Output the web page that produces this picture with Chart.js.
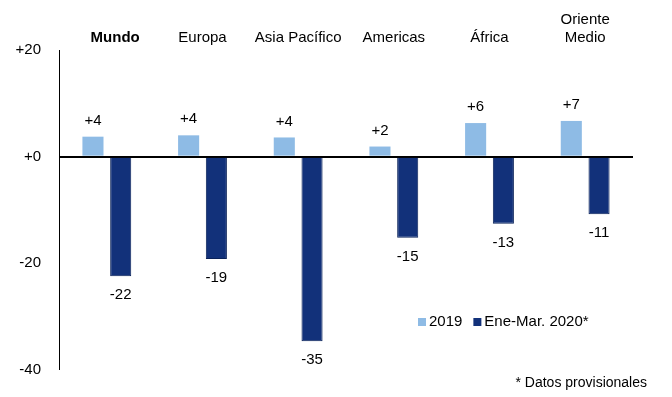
<!DOCTYPE html>
<html><head><meta charset="utf-8">
<script src="https://cdn.jsdelivr.net/npm/chart.js@4"></script>
<style>html,body{margin:0;padding:0;background:#fff}</style>
</head><body>
<canvas id="c" width="672" height="397" style="display:block;width:672px;height:397px"></canvas>
<script>
const categories = ['Mundo', 'Europa', 'Asia Pacífico', 'Americas', 'África', ['Oriente', 'Medio']];
const values2019 = [3.75, 4.0, 3.6, 1.9, 6.3, 6.7];
const values2020 = [-22.4, -19.2, -34.6, -15.2, -12.6, -10.8];
const seriesNames = ['2019', 'Ene-Mar. 2020*'];
const yMin = -40, yMax = 20, yStep = 20;
const footnote = '* Datos provisionales';

const FONT = "'Liberation Sans', Arial, sans-serif";
const LIGHT = '#8EBBE5';
const DARK = '#12317A';

function fmt(v) { const r = Math.round(v); return (r >= 0 ? '+' : '') + r; }

const labelsPlugin = {
  id: 'valueLabels',
  afterDatasetsDraw(chart) {
    const ctx = chart.ctx;
    ctx.save();
    ctx.font = '15px ' + FONT;
    ctx.fillStyle = '#000';
    ctx.textAlign = 'center';
    ctx.textBaseline = 'middle';
    chart.data.datasets.forEach((ds, di) => {
      const meta = chart.getDatasetMeta(di);
      meta.data.forEach((el, i) => {
        const v = ds.data[i];
        const y = v >= 0 ? el.y - 16 : el.y + 19;
        ctx.fillText(fmt(v), el.x, y);
      });
    });
    ctx.restore();
  },
  afterDraw(chart) {
    const ctx = chart.ctx;
    ctx.save();
    ctx.font = '15px ' + FONT;
    ctx.fillStyle = '#000';
    ctx.textBaseline = 'middle';
    ctx.textAlign = 'left';
    // legend
    let x = 418, y = 322;
    chart.data.datasets.forEach((ds) => {
      ctx.fillStyle = ds.backgroundColor;
      ctx.fillRect(x, y - 4, 8, 8);
      ctx.fillStyle = '#000';
      ctx.fillText(ds.label, x + 11, y);
      x += 11 + ctx.measureText(ds.label).width + 11;
    });
    // footnote
    ctx.font = '14px ' + FONT;
    ctx.textAlign = 'right';
    ctx.fillText(footnote, 647, 383);
    ctx.restore();
  }
};

new Chart(document.getElementById('c'), {
  type: 'bar',
  data: {
    labels: categories,
    datasets: [
      { label: seriesNames[0], data: values2019, backgroundColor: LIGHT, borderWidth: 0 },
      { label: seriesNames[1], data: values2020, backgroundColor: DARK, borderColor: '#0A2259', borderWidth: 1 }
    ]
  },
  options: {
    responsive: false,
    animation: false,
    devicePixelRatio: 1,
    categoryPercentage: 0.58,
    barPercentage: 0.76,
    layout: { padding: { left: 0, top: 0, right: 39, bottom: 27 } },
    plugins: { legend: { display: false }, tooltip: { enabled: false } },
    scales: {
      x: {
        position: 'top',
        grid: { display: false, drawTicks: false },
        border: { display: false },
        ticks: {
          color: '#000',
          padding: 3,
          maxRotation: 0,
          autoSkip: false,
          callback: function (v, i) {
            const l = this.getLabelForValue(v);
            return i === 0 ? '    ' + l : categories[i];
          },
          font: (c) => ({ family: FONT, size: 15, weight: c.index === 0 ? 'bold' : 'normal' })
        },
        afterFit: (s) => { s.height = 50; }
      },
      y: {
        min: yMin, max: yMax,
        z: 1,
        grid: {
          drawTicks: false,
          color: (c) => c.tick && c.tick.value === 0 ? '#000' : 'rgba(0,0,0,0)',
          lineWidth: (c) => c.tick && c.tick.value === 0 ? 2 : 0
        },
        border: { display: true, color: '#000', width: 1 },
        ticks: {
          stepSize: yStep,
          color: '#000',
          padding: 18,
          font: { family: FONT, size: 15 },
          callback: (v) => (v >= 0 ? '+' : '') + v
        },
        afterFit: (s) => { s.width = 59; }
      }
    }
  },
  plugins: [labelsPlugin]
});
</script>
</body></html>
